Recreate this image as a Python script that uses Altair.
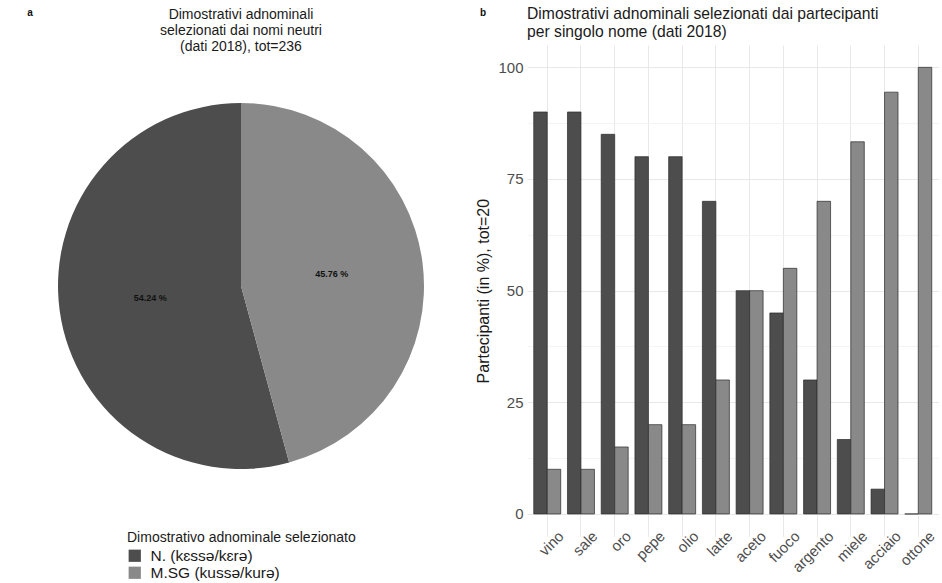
import altair as alt
import pandas as pd

FONT = "Liberation Sans"

# Pie: adnominal demonstratives chosen with neuter nouns (2018 data)
forme = ["N. (kɛssə/kɛrə)", "M.SG (kussə/kurə)"]
conteggi = [128, 108]
ordine_fette = [2, 1]

# Bars: share of participants choosing each form, per noun
nomi = ["vino", "sale", "oro", "pepe", "olio", "latte", "aceto",
        "fuoco", "argento", "miele", "acciaio", "ottone"]
perc_n = [90, 90, 85, 80, 80, 70, 50, 45, 30, 16.67, 5.56, 0]
perc_msg = [10, 10, 15, 20, 20, 30, 50, 55, 70, 83.33, 94.44, 100]

valori_y = [0, 12.5, 25, 37.5, 50, 62.5, 75, 87.5, 100]
colori = ["#4d4d4d", "#898989"]

tot = sum(conteggi)
pie_df = pd.DataFrame({
    "forma": forme,
    "n": conteggi,
    "ordine": ordine_fette,
    "etichetta": [f"{c / tot * 100:.2f} %" for c in conteggi],
})

bar_df = pd.DataFrame(
    [{"nome": n, "forma": forme[0], "perc": v} for n, v in zip(nomi, perc_n)]
    + [{"nome": n, "forma": forme[1], "perc": v} for n, v in zip(nomi, perc_msg)]
)

scala_colori = alt.Scale(domain=forme, range=colori)

# ---- panel a: pie ----
W1, H1 = 482, 491
CX, CY, R = 241, 241, 183

base_pie = alt.Chart(pie_df).encode(
    theta=alt.Theta("n:Q", stack=True),
    order=alt.Order("ordine:Q"),
)
fette = base_pie.mark_arc(radius=R, x=CX, y=CY).encode(
    color=alt.Color(
        "forma:N",
        scale=scala_colori,
        sort=forme,
        legend=alt.Legend(
            title="Dimostrativo adnominale selezionato",
            orient="none",
            legendX=127,
            legendY=486,
            direction="vertical",
            symbolType="square",
            symbolSize=150,
            symbolStrokeWidth=0,
            titleFont=FONT,
            titleFontSize=14,
            titleFontWeight="normal",
            titleColor="#1a1a1a",
            titlePadding=3,
            titleLimit=0,
            labelFont=FONT,
            labelFontSize=15.5,
            labelColor="#1a1a1a",
            labelLimit=0,
            labelOffset=8,
            rowPadding=-1,
        ),
    )
)
percentuali = base_pie.mark_text(
    radius=R / 2, x=CX, y=CY, font=FONT, fontSize=9, fontWeight="bold", color="#111111"
).encode(text="etichetta:N")

lettera_a = alt.Chart(pd.DataFrame({"t": ["a"]})).mark_text(
    font=FONT, fontSize=10, fontWeight="bold", color="#111111"
).encode(text="t:N", x=alt.value(30), y=alt.value(-32))

pie = alt.layer(fette, percentuali, lettera_a).properties(
    width=W1,
    height=H1,
    title=alt.TitleParams(
        ["Dimostrativi adnominali", "selezionati dai nomi neutri", "(dati 2018), tot=236"],
        font=FONT,
        fontSize=14,
        fontWeight="normal",
        color="#1a1a1a",
        anchor="middle",
        frame="group",
        lineHeight=16,
        offset=-46,
    ),
)

# ---- panel b: grouped bars ----
W2, H2 = 411.5, 491.3

barre = alt.Chart(bar_df).mark_bar(stroke="#2b2b2b", strokeWidth=0.7).encode(
    x=alt.X(
        "nome:N",
        sort=nomi,
        title=None,
        scale=alt.Scale(paddingInner=0.2, paddingOuter=0.2),
        axis=alt.Axis(
            labelAngle=315,
            labelAlign="right",
            labelBaseline="top",
            labelFont=FONT,
            labelFontSize=15,
            labelColor="#4d4d4d",
            labelPadding=-8,
            labelOffset=9,
            ticks=False,
            domain=False,
            grid=True,
            gridColor="#e8e8e8",
            gridWidth=1,
        ),
    ),
    xOffset=alt.XOffset(
        "forma:N", sort=forme, scale=alt.Scale(domain=forme, paddingInner=0, paddingOuter=0)
    ),
    y=alt.Y(
        "perc:Q",
        title="Partecipanti (in %), tot=20",
        scale=alt.Scale(domain=[-5, 105], nice=False),
        axis=alt.Axis(
            values=valori_y,
            labelExpr="datum.value % 25 === 0 ? datum.label : ''",
            labelFont=FONT,
            labelFontSize=15,
            labelColor="#4d4d4d",
            labelPadding=4,
            titleFont=FONT,
            titleFontSize=16,
            titleFontWeight="normal",
            titleColor="#1a1a1a",
            titlePadding=6,
            ticks=False,
            domain=False,
            grid=True,
            gridColor={"condition": {"test": "datum.value % 25 === 0", "value": "#e8e8e8"},
                       "value": "#f4f4f4"},
        ),
    ),
    y2=alt.datum(0),
    color=alt.Color("forma:N", scale=scala_colori, sort=forme, legend=None),
)

lettera_b = alt.Chart(pd.DataFrame({"t": ["b"]})).mark_text(
    font=FONT, fontSize=10, fontWeight="bold", color="#111111"
).encode(text="t:N", x=alt.value(-44), y=alt.value(-32))

colonne = alt.layer(barre, lettera_b).properties(
    width=W2,
    height=H2,
    title=alt.TitleParams(
        ["Dimostrativi adnominali selezionati dai partecipanti", "per singolo nome (dati 2018)"],
        font=FONT,
        fontSize=15.7,
        fontWeight="normal",
        color="#1a1a1a",
        anchor="start",
        frame="group",
        lineHeight=18,
        offset=-33,
    ),
)

chart = (
    alt.hconcat(pie, colonne, spacing=45, bounds="flush")
    .resolve_scale(color="independent")
    .properties(padding={"left": 0, "top": 6, "right": 0, "bottom": 0}, background="white")
    .configure_view(stroke=None)
)

chart.save("out.html", embed_options={"renderer": "svg", "actions": False})
